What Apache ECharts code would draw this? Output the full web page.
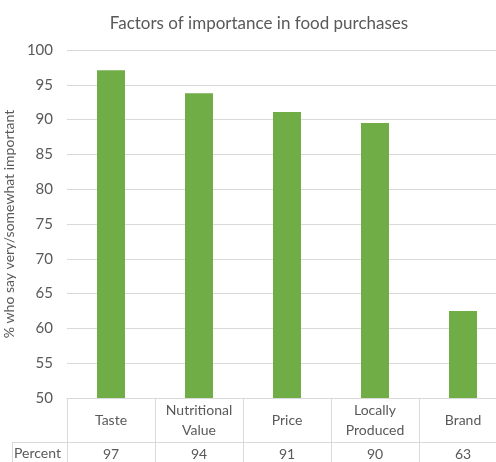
<!DOCTYPE html>
<html>
<head>
<meta charset="utf-8">
<script src="https://cdn.jsdelivr.net/npm/echarts@6/dist/echarts.min.js"></script>
<style>
  html, body { margin: 0; padding: 0; background: #fff; }
  #chart { width: 496px; height: 462px; }
</style>
</head>
<body>
<div id="chart"></div>
<script>
// Survey: share of respondents rating each factor very/somewhat important
const categories = ['Taste', 'Nutritional\nValue', 'Price', 'Locally\nProduced', 'Brand'];
const percentValues = [97.1, 93.8, 91.1, 89.5, 62.5];
const yTicks = { min: 50, max: 100, step: 5 };
const tableRowName = 'Percent';

const FONT = 'Lato';
const TEXT = '#595959';
const LINE = '#d9d9d9';

const chart = echarts.init(document.getElementById('chart'), null, { renderer: 'canvas' });

chart.setOption({
  animation: false,
  title: {
    text: 'Factors of importance in food purchases',
    left: 254,
    top: 10,
    textAlign: 'center',
    textStyle: { fontFamily: FONT, fontSize: 17, fontWeight: 'normal', color: TEXT }
  },
  // the table runs slightly past the right edge of the canvas
  grid: { left: 67, width: 440, top: 50, height: 348, outerBoundsMode: 'none', containLabel: false },
  xAxis: [
    {
      type: 'category',
      data: categories,
      axisLine: { show: true, lineStyle: { color: LINE } },
      axisTick: { show: true, interval: 0, length: 70, lineStyle: { color: LINE } },
      axisLabel: {
        interval: 0, margin: 22, verticalAlign: 'middle', lineHeight: 20,
        fontFamily: FONT, fontSize: 14, color: TEXT
      }
    },
    {
      type: 'category',
      position: 'bottom',
      offset: 44,
      data: percentValues.map(v => String(Math.round(v))),
      axisLine: { show: true, lineStyle: { color: LINE } },
      axisTick: { show: false },
      axisLabel: {
        interval: 0, margin: 12, verticalAlign: 'middle',
        fontFamily: FONT, fontSize: 14, color: TEXT
      }
    }
  ],
  yAxis: {
    type: 'value',
    min: yTicks.min,
    max: yTicks.max,
    interval: yTicks.step,
    name: '% who say very/somewhat important',
    nameLocation: 'middle',
    nameGap: 50,
    nameTextStyle: { fontFamily: FONT, fontSize: 14, color: TEXT },
    axisLine: { show: false },
    axisTick: { show: false },
    axisLabel: { margin: 14, fontFamily: FONT, fontSize: 15, color: TEXT },
    splitLine: { lineStyle: { color: LINE } }
  },
  series: [{
    type: 'bar',
    data: percentValues,
    xAxisIndex: 0,
    barWidth: 28,
    itemStyle: { color: '#70AD47' }
  }],
  graphic: [
    {
      type: 'text', left: 14, top: 446,
      style: { text: tableRowName, font: '14px ' + FONT, fill: TEXT }
    },
    {
      type: 'line',
      shape: { x1: 12, y1: 442.5, x2: 67, y2: 442.5 },
      style: { stroke: LINE, lineWidth: 1 }
    },
    {
      type: 'line',
      shape: { x1: 12.5, y1: 442, x2: 12.5, y2: 462 },
      style: { stroke: LINE, lineWidth: 1 }
    }
  ]
});
</script>
</body>
</html>
